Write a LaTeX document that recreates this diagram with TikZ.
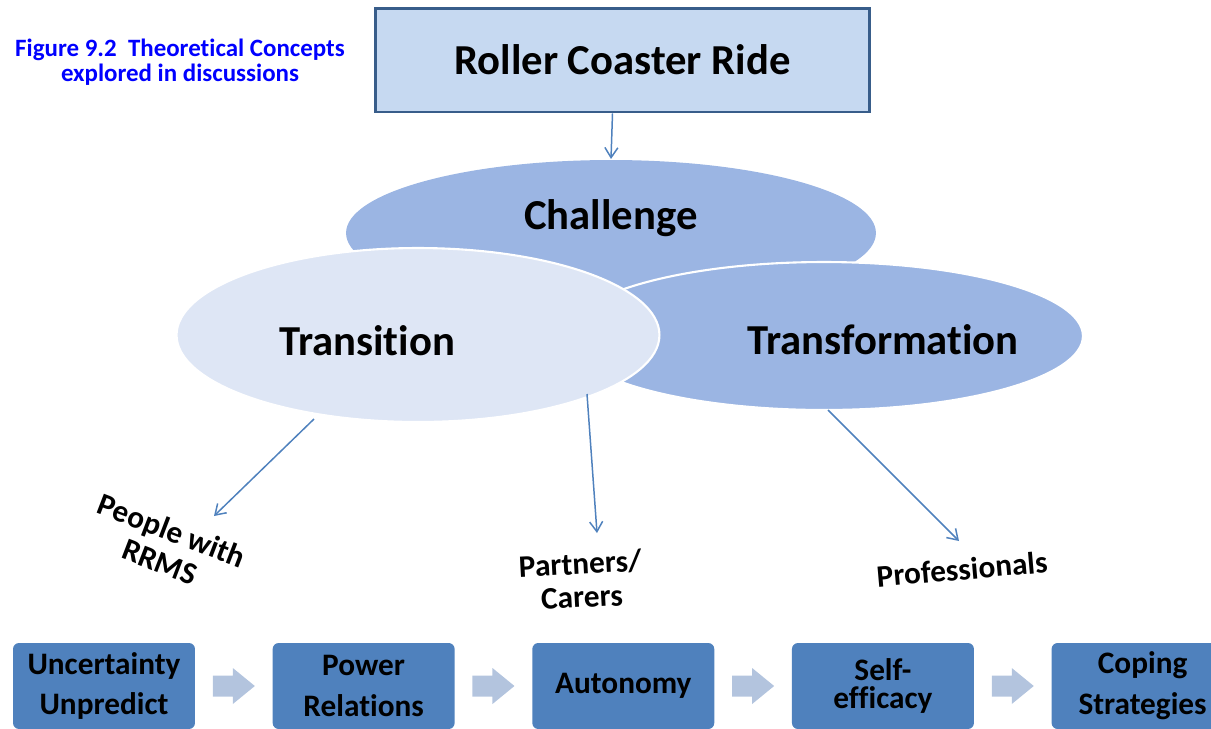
\documentclass[tikz,border=0pt]{standalone}
\usepackage{fontspec}
\setmainfont{Carlito}[Ligatures=NoCommon,Contextuals=NoAlternate]
\usetikzlibrary{arrows.meta,positioning,calc,shapes.geometric}

\definecolor{ridefill}{RGB}{198,217,241}
\definecolor{rideline}{RGB}{56,93,138}
\definecolor{darkoval}{RGB}{155,181,227}
\definecolor{lightoval}{RGB}{222,230,245}
\definecolor{stageblue}{RGB}{79,129,189}
\definecolor{chevblue}{RGB}{179,196,222}

\tikzset{
  concept/.style={ellipse,fill=darkoval,draw=white,line width=1.2pt,inner sep=0pt},
  stage/.style={rectangle,rounded corners=0.12cm,fill=stageblue,minimum width=3.64cm,minimum height=1.72cm,
    align=center,font=\bfseries\fontsize{17.8}{23.2}\selectfont},
  who/.style={align=center,font=\bfseries\fontsize{17.8}{19}\selectfont}
}

\begin{document}
\begin{tikzpicture}[x=0.02cm,y=-0.02cm,>={Straight Barb[length=2mm,width=2.6mm]},node distance=1.54cm]
\useasboundingbox (0,0) rectangle (1211,728);

\node[align=center,text=blue,font=\bfseries\fontsize{14.2}{14.2}\selectfont] (title) at (180,62) {Figure 9.2\ \ Theoretical Concepts\\explored in discussions};

\node[rectangle,fill=ridefill,draw=rideline,line width=1.7pt,minimum width=9.9cm,minimum height=2.08cm,
  font=\bfseries\fontsize{24.3}{29}\selectfont] (ride) at (622.5,60) {Roller Coaster Ride};

% the three ovals
\node[concept,draw=none,minimum width=10.6cm,minimum height=2.92cm] (chal) at (611,233) {};
\node[concept,minimum width=10.36cm,minimum height=2.96cm] (transf) at (824,336) {};
\node[concept,fill=lightoval,minimum width=9.66cm,minimum height=3.48cm] (trans) at (418,335) {};

\node[font=\bfseries\fontsize{24.3}{29}\selectfont] (chaltext) at (611,218) {Challenge};
\node[font=\bfseries\fontsize{24.3}{29}\selectfont] (transtext) at (367,341) {Transition};
\node[font=\bfseries\fontsize{24.3}{29}\selectfont] (transftext) at (883,340) {Transformation};

% groups
\node[who,rotate=-21] (people) at (166,546) {People with\\RRMS};
\node[who,rotate=3] (partners) at (581,580) {Partners/\\Carers};
\node[who,rotate=5] (prof) at (962,569) {Professionals};

\coordinate (t1) at (314,419);
\coordinate (t2) at (587,394);
\coordinate (t3) at (828,410);
\coordinate (e1) at (214,516);
\coordinate (e2) at (597,533);
\coordinate (e3) at (959,541);

\path[->,color=stageblue,line width=0.85pt]
  ([xshift=-0.2cm]ride.south) edge (chal.north)
  (t1) edge (e1)
  (t2) edge (e2)
  (t3) edge (e3);

% stages along the bottom
\node[stage] (s1) at (104,686) {Uncertainty\\Unpredict};
\node[stage] (s2) [right=of s1] {Power\\Relations};
\node[stage] (s3) [right=of s2] {Autonomy};
\node[stage,font=\bfseries\fontsize{17.8}{16.4}\selectfont] (s4) [right=of s3] {Self-\\efficacy};
\node[stage] (s5) [right=of s4] {Coping\\Strategies};

\foreach \a/\b in {s1/s2,s2/s3,s3/s4,s4/s5}{
  \coordinate (c\a) at ($(\a.east)!0.5!(\b.west)$);
  \fill[chevblue] ($(c\a)+(-21,-10.5)$) -- ++(20,0) -- ++(0,-7.5) -- ++(22,18) -- ++(-22,18)
    -- ++(0,-7.5) -- ++(-20,0) -- cycle;
}

\end{tikzpicture}
\end{document}
